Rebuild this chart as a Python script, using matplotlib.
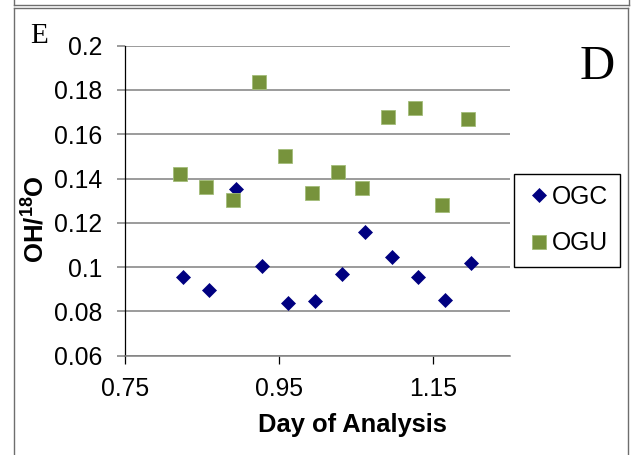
import matplotlib
matplotlib.use("Agg")
import matplotlib.pyplot as plt
from matplotlib.lines import Line2D

# ---- data ----
ogc_x = [0.825, 0.859, 0.894, 0.928, 0.962, 0.996, 1.031, 1.062, 1.096, 1.130, 1.165, 1.199]
ogc_y = [0.0954, 0.0896, 0.1354, 0.1005, 0.0840, 0.0847, 0.0968, 0.1159, 0.1047, 0.0956, 0.0851, 0.1018]
ogu_x = [0.821, 0.855, 0.890, 0.924, 0.958, 0.993, 1.027, 1.058, 1.092, 1.127, 1.161, 1.195]
ogu_y = [0.1422, 0.1362, 0.1302, 0.1836, 0.1503, 0.1336, 0.1430, 0.1356, 0.1679, 0.1720, 0.1279, 0.1668]
series_names = ["OGC", "OGU"]
x_ticks = [0.75, 0.95, 1.15]
x_tick_labels = ["0.75", "0.95", "1.15"]
y_ticks = [0.06, 0.08, 0.10, 0.12, 0.14, 0.16, 0.18, 0.20]
y_tick_labels = ["0.06", "0.08", "0.1", "0.12", "0.14", "0.16", "0.18", "0.2"]

plt.rcParams["font.family"] = ["Liberation Sans", "DejaVu Sans"]
plt.rcParams["mathtext.fontset"] = "custom"
plt.rcParams["mathtext.rm"] = "Liberation Sans"
plt.rcParams["mathtext.bf"] = "Liberation Sans:bold"

W, H = 635, 455
fig = plt.figure(figsize=(W / 100, H / 100), dpi=100)

def fx(px):
    return px / W

def fy(py):
    return 1 - py / H

ax = fig.add_axes([fx(125.3), fy(355.7), fx(510) - fx(125.3), fy(45.7) - fy(355.7)])

grid_c = "#808080"
ax.set_xlim(0.75, 1.25)
ax.set_ylim(0.06, 0.2)
ax.set_yticks(y_ticks)
ax.set_yticklabels(y_tick_labels)
ax.set_xticks(x_ticks)
ax.set_xticklabels(x_tick_labels)
ax.yaxis.grid(True, color=grid_c, lw=1.1)
ax.set_axisbelow(True)
for s in ["top", "right"]:
    ax.spines[s].set_visible(False)
ax.spines["left"].set_color("black")
ax.spines["left"].set_linewidth(0.9)
ax.spines["bottom"].set_color(grid_c)
ax.spines["bottom"].set_linewidth(1.1)
ax.tick_params(axis="y", direction="out", length=6, width=1.1, color=grid_c,
               labelsize=17.8, pad=10.5)
ax.tick_params(axis="x", direction="out", length=5.5, width=0.9, color="black",
               labelsize=17.8, pad=10)

ax.plot(ogc_x, ogc_y, linestyle="none", marker="D", markersize=7.6,
        color="#000080", markeredgecolor="#000080", markeredgewidth=0.5,
        label=series_names[0], zorder=3, clip_on=False)
ax.plot(ogu_x, ogu_y, linestyle="none", marker="s", markersize=10.6,
        color="#77933C", markeredgecolor="#a3bd78", markeredgewidth=0.6,
        label=series_names[1], zorder=3, clip_on=False)

leg = ax.legend(loc="upper left", bbox_to_anchor=(fx(514), fy(174)),
                bbox_transform=fig.transFigure, borderaxespad=0, fontsize=17.8,
                frameon=True, fancybox=False, edgecolor="black", framealpha=1,
                handlelength=1.1, handletextpad=0.0, labelspacing=0.9,
                borderpad=0.45, numpoints=1)
leg.get_frame().set_linewidth(1.0)

# axis titles
fig.text(fx(352.7), fy(431.7), "Day of Analysis", fontsize=18.4, fontweight="bold",
         ha="center", va="baseline")
fig.text(fx(36), fy(219.5), r"$\mathbf{OH/^{18}O}$", fontsize=18.5, rotation=90,
         ha="center", va="center")

# panel letters
fig.text(fx(597), fy(79), "D", fontsize=35, family="Liberation Serif",
         ha="center", va="baseline")
fig.text(fx(30.5), fy(43.3), "E", fontsize=21, family="Liberation Serif",
         ha="left", va="baseline")

# panel frames
fc = "#6e6e6e"
def fline(xs, ys, lw=1.0):
    fig.add_artist(Line2D([fx(v) for v in xs], [fy(v) for v in ys],
                          color=fc, lw=lw, transform=fig.transFigure))

fline([14, 629], [4.7, 4.7])
fline([14, 14], [0, 4.7])
fline([629, 629], [0, 4.7])
fline([14, 628], [8, 8])
fline([14, 14], [8, 455])
fline([628, 628], [8, 455])

fig.savefig("out.png", dpi=100)
